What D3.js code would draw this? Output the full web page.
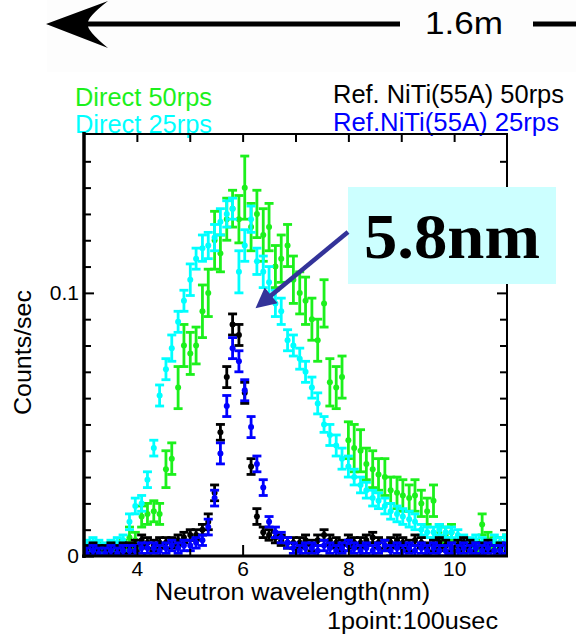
<!DOCTYPE html>
<html><head><meta charset="utf-8">
<script src="https://cdn.jsdelivr.net/npm/d3@7"></script>
<style>
body{margin:0;background:#fff}
svg{display:block}
</style>
</head><body>
<svg id="c" width="576" height="634" font-family='"Liberation Sans",Arial,sans-serif'></svg>
<script>
// ---- data ----
const wavelength = [3.05,3.17,3.28,3.40,3.51,3.63,3.74,3.86,3.97,4.09,
  4.20,4.32,4.43,4.55,4.66,4.78,4.89,5.01,5.12,5.24,
  5.35,5.47,5.58,5.70,5.81,5.93,6.04,6.16,6.27,6.39,
  6.50,6.62,6.73,6.85,6.96,7.08,7.19,7.31,7.42,7.54,
  7.65,7.77,7.88,8.00,8.11,8.23,8.34,8.46,8.57,8.69,
  8.80,8.92,9.03,9.15,9.26,9.38,9.49,9.61,9.72,9.84,
  9.95,10.07,10.18,10.30,10.41,10.53,10.64,10.76,10.87,10.99];

const direct50 = [0.002,0.002,0.003,0.002,0.003,0.003,0.004,0.007,0.006,0.015,
  0.016,0.017,0.016,0.033,0.037,0.064,0.080,0.077,0.080,0.093,
  0.100,0.120,0.115,0.128,0.132,0.128,0.140,0.125,0.130,0.122,
  0.125,0.110,0.113,0.118,0.105,0.100,0.097,0.090,0.082,0.096,
  0.066,0.064,0.068,0.044,0.041,0.040,0.035,0.033,0.031,0.030,
  0.025,0.024,0.023,0.022,0.023,0.020,0.017,0.021,0.009,0.008,
  0.009,0.004,0.003,0.003,0.004,0.012,0.006,0.005,0.005,0.006];
const direct50Err = [0.002,0.002,0.002,0.002,0.002,0.002,0.002,0.004,0.003,0.004,
  0.004,0.004,0.004,0.007,0.006,0.008,0.008,0.008,0.007,0.010,
  0.009,0.011,0.007,0.008,0.007,0.009,0.012,0.009,0.009,0.010,
  0.009,0.008,0.009,0.008,0.009,0.008,0.009,0.008,0.008,0.009,
  0.009,0.008,0.008,0.007,0.009,0.008,0.006,0.007,0.006,0.007,
  0.005,0.006,0.006,0.005,0.006,0.005,0.005,0.006,0.003,0.003,
  0.003,0.002,0.002,0.002,0.002,0.004,0.003,0.002,0.002,0.002];

const direct25 = [0.004,0.005,0.004,0.003,0.004,0.005,0.006,0.013,0.019,0.020,
  0.029,0.041,0.061,0.071,0.079,0.089,0.097,0.105,0.113,0.117,
  0.118,0.121,0.127,0.130,0.132,0.108,0.118,0.128,0.112,0.108,
  0.104,0.096,0.093,0.082,0.080,0.075,0.070,0.064,0.058,0.050,
  0.046,0.042,0.037,0.034,0.030,0.027,0.025,0.022,0.021,0.019,
  0.017,0.016,0.015,0.014,0.013,0.010,0.009,0.009,0.010,0.009,
  0.009,0.008,0.006,0.005,0.006,0.005,0.004,0.006,0.005,0.006];
const direct25Err = [0.002,0.002,0.002,0.002,0.002,0.002,0.002,0.003,0.003,0.003,
  0.003,0.003,0.004,0.004,0.005,0.004,0.004,0.006,0.004,0.005,
  0.005,0.005,0.005,0.005,0.004,0.008,0.006,0.005,0.005,0.006,
  0.006,0.005,0.005,0.004,0.004,0.004,0.004,0.004,0.004,0.003,
  0.004,0.004,0.004,0.004,0.003,0.003,0.003,0.003,0.003,0.003,
  0.003,0.003,0.003,0.003,0.003,0.002,0.002,0.002,0.002,0.002,
  0.002,0.002,0.002,0.002,0.002,0.002,0.002,0.002,0.002,0.002];

const refNiTi50 = [0.002,0.003,0.002,0.002,0.003,0.002,0.003,0.003,0.004,0.006,
  0.005,0.004,0.005,0.005,0.005,0.006,0.007,0.008,0.008,0.010,
  0.013,0.024,0.047,0.068,0.088,0.084,0.062,0.034,0.015,0.009,
  0.008,0.007,0.006,0.005,0.005,0.005,0.006,0.004,0.006,0.008,
  0.006,0.005,0.004,0.006,0.005,0.005,0.006,0.007,0.005,0.004,
  0.005,0.006,0.005,0.004,0.006,0.005,0.003,0.004,0.005,0.004,
  0.003,0.004,0.005,0.004,0.003,0.003,0.004,0.002,0.003,0.002];
const refNiTi50Err = [0.002,0.002,0.002,0.002,0.002,0.002,0.002,0.002,0.002,0.002,
  0.002,0.002,0.002,0.002,0.002,0.002,0.002,0.002,0.002,0.002,
  0.003,0.003,0.003,0.004,0.004,0.004,0.004,0.003,0.003,0.002,
  0.002,0.002,0.002,0.002,0.002,0.002,0.002,0.002,0.002,0.002,
  0.002,0.002,0.002,0.002,0.002,0.002,0.002,0.002,0.002,0.002,
  0.002,0.002,0.002,0.002,0.002,0.002,0.002,0.002,0.002,0.002,
  0.002,0.002,0.002,0.002,0.002,0.002,0.002,0.002,0.002,0.002];

const refNiTi25 = [0.001,0.002,0.001,0.001,0.002,0.001,0.002,0.002,0.002,0.003,
  0.003,0.003,0.002,0.003,0.004,0.003,0.004,0.004,0.005,0.006,
  0.011,0.022,0.039,0.057,0.079,0.074,0.063,0.049,0.035,0.026,
  0.013,0.009,0.007,0.005,0.003,0.002,0.003,0.003,0.002,0.004,
  0.003,0.002,0.003,0.004,0.003,0.002,0.003,0.002,0.003,0.004,
  0.002,0.003,0.002,0.003,0.002,0.003,0.002,0.003,0.002,0.002,
  0.003,0.002,0.003,0.002,0.003,0.002,0.003,0.002,0.002,0.003];
const refNiTi25Err = [0.002,0.002,0.002,0.002,0.002,0.002,0.002,0.002,0.002,0.002,
  0.002,0.002,0.002,0.002,0.002,0.002,0.002,0.002,0.002,0.002,
  0.003,0.003,0.004,0.004,0.004,0.004,0.004,0.004,0.003,0.003,
  0.002,0.002,0.002,0.002,0.002,0.002,0.002,0.002,0.002,0.002,
  0.002,0.002,0.002,0.002,0.002,0.002,0.002,0.002,0.002,0.002,
  0.002,0.002,0.002,0.002,0.002,0.002,0.002,0.002,0.002,0.002,
  0.002,0.002,0.002,0.002,0.002,0.002,0.002,0.002,0.002,0.002];

const seriesNames = ["Direct 50rps","Direct 25rps","Ref. NiTi(55A) 50rps","Ref.NiTi(55A) 25rps"];
const seriesColors = ["#1cf01c","#00ffff","#000000","#0000ff"];
const xTickLabels = [4,6,8,10];
const yTickLabels = [0,0.1];
const xTitle = "Neutron wavelength(nm)";
const yTitle = "Counts/sec";
const note = "1point:100usec";
const distanceLabel = "1.6m";
const peakLabel = "5.8nm";

// ---- drawing ----
const svg = d3.select("#c");
const x = d3.scaleLinear().domain([3,11]).range([84,507]);
const y = d3.scaleLinear().domain([0,0.16]).range([556,135]);

// faint top banner
svg.append("rect").attr("x",47).attr("y",0).attr("width",529).attr("height",72).attr("fill","#fdfdfd");

// top arrow
svg.append("line").attr("x1",85).attr("x2",400).attr("y1",24).attr("y2",24)
  .attr("stroke","#000").attr("stroke-width",5);
svg.append("path").attr("d","M46,24 L108,1 Q86,18 88,24 Q86,30 108,48 Z").attr("fill","#000");
svg.append("line").attr("x1",533).attr("x2",576).attr("y1",24).attr("y2",24)
  .attr("stroke","#000").attr("stroke-width",5);
svg.append("text").attr("x",425).attr("y",34).attr("font-size",31)
  .attr("textLength",78).attr("lengthAdjust","spacingAndGlyphs").text(distanceLabel);

// legend
const legendPos = [[75,106,137],[75,133,137],[333,103,231],[333,131,226]];
seriesNames.forEach((n,i)=>{
  svg.append("text").attr("x",legendPos[i][0]).attr("y",legendPos[i][1])
    .attr("font-size",25).attr("fill",seriesColors[i])
    .attr("textLength",legendPos[i][2]).attr("lengthAdjust","spacingAndGlyphs").text(n);
});

// clip
svg.append("clipPath").attr("id","clip").append("rect")
  .attr("x",84).attr("y",134).attr("width",423).attr("height",422);

const seriesVals = [direct50,direct25,refNiTi50,refNiTi25];
const seriesErrs = [direct50Err,direct25Err,refNiTi50Err,refNiTi25Err];
const plot = svg.append("g").attr("clip-path","url(#clip)");
seriesVals.forEach((vals,si)=>{
  const pts = wavelength.map((w,i)=>({w, v:vals[i], e:seriesErrs[si][i]}));
  const g = plot.append("g").attr("stroke",seriesColors[si]).attr("fill",seriesColors[si]).attr("stroke-width",2.8);
  g.selectAll("line.bar").data(pts).join("line").attr("class","bar")
    .attr("x1",d=>x(d.w)).attr("x2",d=>x(d.w))
    .attr("y1",d=>y(d.v-d.e)).attr("y2",d=>y(d.v+d.e));
  g.selectAll("line.capT").data(pts).join("line").attr("class","capT")
    .attr("x1",d=>x(d.w)-4.5).attr("x2",d=>x(d.w)+4.5)
    .attr("y1",d=>y(d.v+d.e)).attr("y2",d=>y(d.v+d.e));
  g.selectAll("line.capB").data(pts).join("line").attr("class","capB")
    .attr("x1",d=>x(d.w)-4.5).attr("x2",d=>x(d.w)+4.5)
    .attr("y1",d=>y(d.v-d.e)).attr("y2",d=>y(d.v-d.e));
  g.selectAll("circle").data(pts).join("circle")
    .attr("cx",d=>x(d.w)).attr("cy",d=>y(d.v)).attr("r",3).attr("stroke","none");
});

// axes ticks
function styleAxis(g){ g.select(".domain").remove(); g.selectAll("line").attr("stroke","#000").attr("stroke-width",2); g.selectAll("text").attr("font-size",21).attr("fill","#000").attr("font-family",'"Liberation Sans",Arial,sans-serif'); }
svg.append("g").attr("transform","translate(0,556)")
  .call(d3.axisBottom(x).tickValues(xTickLabels).tickSize(-11).tickPadding(5).tickFormat(d3.format("d"))).call(styleAxis);
svg.append("g").attr("transform","translate(0,556)")
  .call(d3.axisBottom(x).tickValues([5,7,9]).tickSize(-7).tickFormat("")).call(styleAxis);
svg.append("g").attr("transform","translate(0,134)")
  .call(d3.axisTop(x).tickValues([4,5,6,7,8,9,10]).tickSize(-8).tickFormat("")).call(styleAxis);
const minorY = d3.range(1,16).map(k=>k/100).filter(v=>Math.abs(v-0.1)>1e-9);
svg.append("g").attr("transform","translate(84,0)")
  .call(d3.axisLeft(y).tickValues(minorY).tickSize(-7).tickFormat("")).call(styleAxis);
svg.append("g").attr("transform","translate(84,0)")
  .call(d3.axisLeft(y).tickValues(yTickLabels).tickSize(-10).tickPadding(5).tickFormat(d=>d===0?"0":d3.format(".1f")(d))).call(styleAxis);
svg.append("g").attr("transform","translate(507,0)")
  .call(d3.axisRight(y).tickValues(minorY).tickSize(-7).tickFormat("")).call(styleAxis);
svg.append("g").attr("transform","translate(507,0)")
  .call(d3.axisRight(y).tickValues([0.1]).tickSize(-10).tickFormat("")).call(styleAxis);

// frame
svg.append("line").attr("x1",84).attr("x2",84).attr("y1",132).attr("y2",558).attr("stroke","#000").attr("stroke-width",3.5);
svg.append("line").attr("x1",82).attr("x2",508).attr("y1",556).attr("y2",556).attr("stroke","#000").attr("stroke-width",3);
svg.append("line").attr("x1",84).attr("x2",508).attr("y1",134).attr("y2",134).attr("stroke","#000").attr("stroke-width",2);
svg.append("line").attr("x1",507).attr("x2",507).attr("y1",133).attr("y2",557).attr("stroke","#000").attr("stroke-width",2);

// titles
svg.append("text").attr("x",155).attr("y",600).attr("font-size",23)
  .attr("textLength",275).attr("lengthAdjust","spacingAndGlyphs").text(xTitle);
svg.append("text").attr("transform","translate(31,415) rotate(-90)").attr("font-size",24)
  .attr("textLength",125).attr("lengthAdjust","spacingAndGlyphs").text(yTitle);
svg.append("text").attr("x",327).attr("y",629).attr("font-size",23)
  .attr("textLength",171).attr("lengthAdjust","spacingAndGlyphs").text(note);

// annotation
svg.append("rect").attr("x",348).attr("y",187).attr("width",208).attr("height",97).attr("fill","#ccffff");
svg.append("text").attr("x",364).attr("y",258).attr("font-size",64).attr("font-weight","bold")
  .attr("font-family",'"Liberation Serif","Times New Roman",serif')
  .attr("textLength",176).attr("lengthAdjust","spacingAndGlyphs").text(peakLabel);
const defs = svg.append("defs");
defs.append("marker").attr("id","ah").attr("viewBox","0 0 10 10").attr("refX",2).attr("refY",5)
  .attr("markerWidth",5).attr("markerHeight",4.5).attr("orient","auto").attr("markerUnits","strokeWidth")
  .append("path").attr("d","M0,0 L10,5 L0,10 Z").attr("fill","#333399");
svg.append("line").attr("x1",348).attr("y1",232).attr("x2",268).attr("y2",298)
  .attr("stroke","#333399").attr("stroke-width",4.5).attr("marker-end","url(#ah)");
</script>
</body></html>
